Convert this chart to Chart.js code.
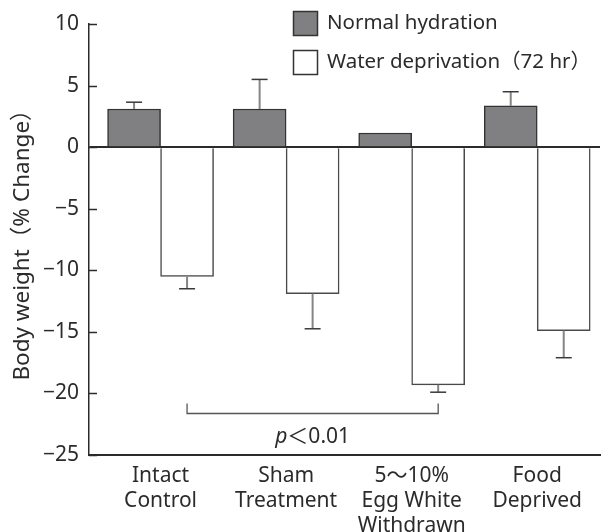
<!DOCTYPE html>
<html>
<head>
<meta charset="utf-8">
<script src="https://cdn.jsdelivr.net/npm/chart.js@4.4.1/dist/chart.umd.min.js"></script>
<style>
  html, body { margin: 0; padding: 0; background: #ffffff; }
  #wrap { width: 609px; height: 532px; }
</style>
</head>
<body>
<div id="wrap"><canvas id="chart" width="609" height="532"></canvas></div>
<script>
// Groups along the x axis (each label is split over lines)
const categories = [
  ['Intact', 'Control'],
  ['Sham', 'Treatment'],
  ['5～10%', 'Egg White', 'Withdrawn'],
  ['Food', 'Deprived']
];
const seriesNames = ['Normal hydration', 'Water deprivation（72 hr）'];

// Body weight change (%) and the error (drawn away from zero)
const normalValues = [3.1, 3.1, 1.15, 3.35];
const normalErrors = [0.55, 2.4, 0, 1.15];
const waterValues = [-10.5, -11.9, -19.3, -14.9];
const waterErrors = [1.0, 2.85, 0.6, 2.2];

const yTicks = [10, 5, 0, -5, -10, -15, -20, -25];

// Significance bracket between two water-deprivation bars
const bracketFrom = 0;
const bracketTo = 2;
const bracketLevel = -21.6;
const bracketText = 'p＜0.01';

const FONT = '"Noto Sans", "Liberation Sans", "Noto Sans CJK JP", sans-serif';
const INK = '#2b2b2b';

const errorBars = {
  id: 'errorBars',
  afterDatasetsDraw(chart) {
    const ctx = chart.ctx;
    const y = chart.scales.y;
    const errs = [normalErrors, waterErrors];
    const vals = [normalValues, waterValues];
    ctx.save();
    chart.data.datasets.forEach((ds, di) => {
      const meta = chart.getDatasetMeta(di);
      meta.data.forEach((bar, i) => {
        const e = errs[di][i];
        if (!e) return;
        const v = vals[di][i];
        const end = v >= 0 ? v + e : v - e;
        const yBar = y.getPixelForValue(v);
        const yEnd = y.getPixelForValue(end);
        ctx.strokeStyle = '#858585';
        ctx.lineWidth = 2;
        ctx.beginPath();
        ctx.moveTo(bar.x, yBar);
        ctx.lineTo(bar.x, yEnd);
        ctx.stroke();
        ctx.strokeStyle = '#3a3a3a';
        ctx.lineWidth = 1.5;
        ctx.beginPath();
        ctx.moveTo(bar.x - 8, yEnd);
        ctx.lineTo(bar.x + 8, yEnd);
        ctx.stroke();
      });
    });
    ctx.restore();
  }
};

const annotations = {
  id: 'annotations',
  afterDraw(chart) {
    const ctx = chart.ctx;
    const y = chart.scales.y;
    const area = chart.chartArea;
    ctx.save();

    // inward tick marks on the value axis
    ctx.strokeStyle = INK;
    ctx.lineWidth = 1.5;
    y.ticks.forEach(t => {
      const py = Math.round(y.getPixelForValue(t.value)) + 0.5;
      ctx.beginPath();
      ctx.moveTo(area.left, py);
      ctx.lineTo(area.left + 8, py);
      ctx.stroke();
    });

    // significance bracket
    const meta = chart.getDatasetMeta(1);
    const x1 = meta.data[bracketFrom].x;
    const x2 = meta.data[bracketTo].x;
    const by = Math.round(y.getPixelForValue(bracketLevel)) + 0.5;
    ctx.strokeStyle = '#555555';
    ctx.lineWidth = 1.3;
    ctx.beginPath();
    ctx.moveTo(x1, by - 10);
    ctx.lineTo(x1, by);
    ctx.lineTo(x2, by);
    ctx.lineTo(x2, by - 10);
    ctx.stroke();

    // bracket text with italic p
    ctx.fillStyle = INK;
    ctx.textBaseline = 'alphabetic';
    const ty = by + 29;
    ctx.font = 'italic 21px ' + FONT;
    const pW = ctx.measureText('p').width;
    ctx.font = '21px ' + FONT;
    const rest = bracketText.slice(1);
    const rW = ctx.measureText(rest).width;
    const cx = (x1 + x2) / 2;
    const sx = cx - (pW + rW) / 2;
    ctx.font = 'italic 21px ' + FONT;
    ctx.textAlign = 'left';
    ctx.fillText('p', sx, ty);
    ctx.font = '21px ' + FONT;
    ctx.fillText(rest, sx + pW, ty);

    // legend
    const lx = 293, ly = [11, 50];
    chart.data.datasets.forEach((ds, i) => {
      ctx.fillStyle = ds.backgroundColor;
      ctx.fillRect(lx, ly[i], 24, 24);
      ctx.strokeStyle = '#333333';
      ctx.lineWidth = 1.5;
      ctx.strokeRect(lx + 0.5, ly[i] + 0.5, 24, 24);
      ctx.fillStyle = INK;
      ctx.font = '20.5px ' + FONT;
      ctx.textBaseline = 'middle';
      ctx.fillText(ds.label, lx + 34, ly[i] + 12);
    });
    ctx.restore();
  }
};

new Chart(document.getElementById('chart'), {
  type: 'bar',
  data: {
    datasets: [
      {
        label: seriesNames[0],
        data: normalValues.map((v, i) => ({ x: i, y: v })),
        backgroundColor: '#807f82',
        borderColor: '#333333',
        borderWidth: 1.5
      },
      {
        label: seriesNames[1],
        data: waterValues.map((v, i) => ({ x: i, y: v })),
        backgroundColor: '#ffffff',
        borderColor: '#4a4a4a',
        borderWidth: 1.5
      }
    ]
  },
  options: {
    responsive: false,
    animation: false,
    devicePixelRatio: 1,
    barThickness: 53,
    layout: { padding: { top: 24, right: 9, left: 0, bottom: 0 } },
    plugins: {
      legend: { display: false },
      tooltip: { enabled: false }
    },
    scales: {
      x: {
        type: 'linear',
        min: -0.57,
        max: 3.5,
        offset: false,
        grid: { display: false, drawTicks: false },
        border: { display: true, color: INK, width: 2 },
        afterBuildTicks(scale) {
          scale.ticks = categories.map((c, i) => ({ value: i }));
        },
        afterFit(scale) { scale.height = 77; },
        ticks: {
          autoSkip: false,
          maxRotation: 0,
          padding: 8,
          color: INK,
          font: { family: FONT, size: 21, lineHeight: 1.2 },
          callback: (v) => categories[v]
        }
      },
      y: {
        min: -25,
        max: 10,
        z: 1,
        afterBuildTicks(scale) {
          scale.ticks = yTicks.map(v => ({ value: v }));
        },
        afterFit(scale) { scale.width = 89; },
        grid: {
          drawTicks: false,
          color: (c) => (c.tick && c.tick.value === 0 ? INK : 'rgba(0,0,0,0)'),
          lineWidth: (c) => (c.tick && c.tick.value === 0 ? 2 : 0)
        },
        border: { display: true, color: INK, width: 1.5 },
        ticks: {
          padding: 10,
          color: INK,
          font: { family: FONT, size: 21 },
          callback: (v) => String(v).replace('-', '−')
        },
        title: {
          display: true,
          text: 'Body weight（% Change）',
          color: INK,
          font: { family: FONT, size: 22.5 },
          padding: { top: 9, bottom: 0 }
        }
      }
    }
  },
  plugins: [errorBars, annotations]
});
</script>
</body>
</html>
